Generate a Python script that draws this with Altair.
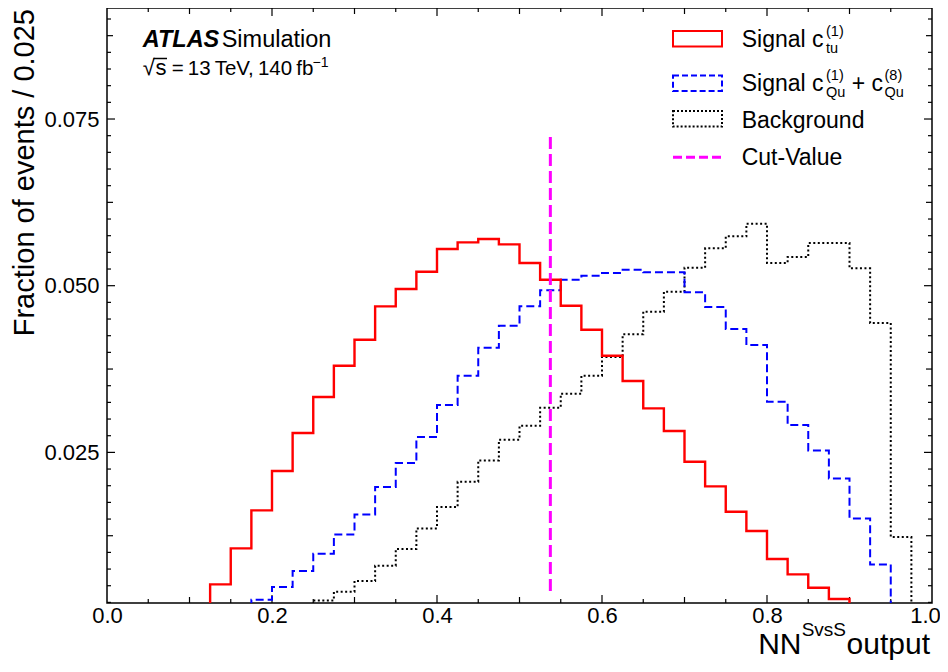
import altair as alt
import numpy as np
import pandas as pd

# ---------------- data ----------------
BIN_WIDTH = 0.025
N_BINS = 40

signal_ctu = [0, 0, 0, 0, 0, 0.0052, 0.0106, 0.0163, 0.0222, 0.0279,
              0.0333, 0.0380, 0.0419, 0.0469, 0.0495, 0.0521, 0.0555, 0.0565, 0.0570, 0.0562,
              0.0534, 0.0509, 0.0470, 0.0434, 0.0395, 0.0357, 0.0316, 0.0282, 0.0236, 0.0199,
              0.0161, 0.0132, 0.0090, 0.0067, 0.0047, 0.0030, 0, 0, 0, 0]
signal_cqu = [0, 0, 0, 0, 0, 0, 0, 0.0029, 0.0048, 0.0072,
              0.0098, 0.0127, 0.0157, 0.0198, 0.0234, 0.0273, 0.0321, 0.0365, 0.0407, 0.0440,
              0.0469, 0.0493, 0.0509, 0.0515, 0.0519, 0.0524, 0.0520, 0.0520, 0.0490, 0.0468,
              0.0435, 0.0411, 0.0326, 0.0291, 0.0253, 0.0211, 0.0151, 0.0082, 0, 0]
background = [0, 0, 0, 0, 0, 0, 0, 0, 0, 0,
              0.0028, 0.0041, 0.0057, 0.0080, 0.0105, 0.0136, 0.0168, 0.0206, 0.0238, 0.0269,
              0.0290, 0.0317, 0.0338, 0.0365, 0.0393, 0.0427, 0.0461, 0.0491, 0.0527, 0.0556,
              0.0574, 0.0593, 0.0534, 0.0543, 0.0564, 0.0564, 0.0526, 0.0444, 0.0123, 0]

cut_value = 0.5374
cut_y_range = [0.0042, 0.0723]

x_tick_labels = [0.0, 0.2, 0.4, 0.6, 0.8, 1.0]
y_tick_labels = [0.025, 0.050, 0.075]

legend_labels = ["Signal c", "Signal c", "Background", "Cut-Value"]
y_title = "Fraction of events / 0.025"

# ---------------- layout ----------------
FONT = "Liberation Sans"
W, H = 825, 595
Y_MIN, Y_MAX = 0.00241, 0.09165
PPU_Y = H / (Y_MAX - Y_MIN)
PPU_X = W / 1.0

xs = alt.Scale(domain=[0, 1], nice=False, zero=False)
ys = alt.Scale(domain=[Y_MIN, Y_MAX], nice=False, zero=False)

x_axis = alt.Axis(values=x_tick_labels, format=".1f", labelFont=FONT, labelFontSize=22,
                  labelColor="black", labelPadding=2, ticks=False, tickSize=0, domain=False,
                  grid=False, title=None, labelFlush=False, labelOverlap=False,
                  labelOffset={"condition": {"test": "datum.value > 0.99", "value": -7},
                               "value": 0})
y_axis = alt.Axis(values=y_tick_labels, format=".3f", labelFont=FONT, labelFontSize=22,
                  labelColor="black", labelPadding=8, ticks=False, tickSize=0, domain=False,
                  grid=False, title=y_title, titleFont=FONT, titleFontSize=29,
                  titleFontWeight="normal", titleColor="black", titleAngle=270,
                  titleAlign="right", titleBaseline="alphabetic", titleX=-74, titleY=0.5,
                  labelFlush=False, labelOverlap=False)

X = alt.X("x:Q", scale=xs, axis=x_axis)
Y = alt.Y("y:Q", scale=ys, axis=y_axis)


def step_df(vals):
    edges = np.arange(N_BINS + 1) * BIN_WIDTH
    return pd.DataFrame({"x": edges, "y": list(vals) + [vals[-1]]})


def hist(vals, color, width, dash=None):
    kw = dict(interpolate="step-after", clip=True, color=color, strokeWidth=width)
    if dash:
        kw["strokeDash"] = dash
    return alt.Chart(step_df(vals)).mark_line(**kw).encode(x=X, y=Y)


# tick marks (inward, on all four sides)
rows = []
for k in range(1, 20):
    v = k * 0.05
    L = 8 if k % 4 == 0 else (6 if k % 2 == 0 else 4)
    rows.append(dict(x=v, x2=v, y=Y_MIN, y2=Y_MIN + L / PPU_Y))
    rows.append(dict(x=v, x2=v, y=Y_MAX, y2=Y_MAX - L / PPU_Y))
for j in range(1, 37):
    v = j * 0.0025
    if v <= Y_MIN or v >= Y_MAX:
        continue
    L = 8 if j % 10 == 0 else (6 if j % 5 == 0 else 4)
    rows.append(dict(x=0.0, x2=L / PPU_X, y=v, y2=v))
    rows.append(dict(x=1.0, x2=1.0 - L / PPU_X, y=v, y2=v))
ticks_df = pd.DataFrame(rows)
ticks = alt.Chart(ticks_df).mark_rule(color="black", strokeWidth=1.2).encode(
    x=X, x2="x2:Q", y=Y, y2="y2:Q")

cut_df = pd.DataFrame({"x": [cut_value], "y": [cut_y_range[0]], "y2": [cut_y_range[1]]})
cut = alt.Chart(cut_df).mark_rule(color="#ff00ff", strokeWidth=3, strokeDash=[12, 5]).encode(
    x=X, y=Y, y2="y2:Q")

one = pd.DataFrame({"d": [0]})


def txt(s, x, y, size, weight="normal", style="normal", align="left"):
    return alt.Chart(one).mark_text(text=s, font=FONT, fontSize=size, fontWeight=weight,
                                    fontStyle=style, align=align, baseline="alphabetic",
                                    color="black").encode(x=alt.value(x), y=alt.value(y))


def box(y0, y1, color, dash=None):
    kw = dict(fillOpacity=0, stroke=color, strokeWidth=2)
    if dash:
        kw["strokeDash"] = dash
    return alt.Chart(one).mark_rect(**kw).encode(
        x=alt.value(566), x2=alt.value(615), y=alt.value(y0), y2=alt.value(y1))


def hline(x0, x1, y, color, width, dash=None):
    kw = dict(color=color, strokeWidth=width)
    if dash:
        kw["strokeDash"] = dash
    return alt.Chart(one).mark_rule(**kw).encode(
        x=alt.value(x0), x2=alt.value(x1), y=alt.value(y))


LX = 634.7
legend = [
    box(23, 38.6, "#ff0000"),
    box(67.5, 83.1, "#0000ff", [6, 3]),
    box(103, 118.6, "black", [2, 2]),
    hline(566, 615, 149.3, "#ff00ff", 3, [9, 4]),
    txt(legend_labels[0], LX, 39.3, 23),
    txt("(1)", 719.0, 27.5, 14.5),
    txt("tu", 719.0, 45, 14.5),
    txt(legend_labels[1], LX, 83, 23),
    txt("(1)", 719.0, 72, 14.5),
    txt("Qu", 719.0, 89, 14.5),
    txt("+ c", 744.7, 83, 23),
    txt("(8)", 777.5, 72, 14.5),
    txt("Qu", 777.5, 89, 14.5),
    txt(legend_labels[2], LX, 119.5, 23),
    txt(legend_labels[3], LX, 157, 23),
]

T = "\u2009"
atlas = [
    txt("ATLAS", 35.7, 38.7, 23.5, weight="bold", style="italic"),
    txt("Simulation", 114.7, 38.7, 23.5),
    txt("\u221a", 35.7, 67, 22),
    txt("s", 48.5, 67, 22),
    hline(46.5, 60, 50.5, "black", 1.5),
    txt("=" + T + "13" + T + "TeV," + T + "140" + T + "fb", 64.7, 67, 20.5),
    txt("\u22121", 205.5, 58.5, 14),
]

TB = 646  # x-title baseline (relative to plot top)
xtitle = [
    txt("output", 823, TB, 30, align="right"),
    txt("SvsS", 739, TB - 18, 19, align="right"),
    txt("NN", 694.5, TB, 30, align="right"),
]

chart = alt.layer(
    ticks,
    hist(background, "black", 2, [2, 2.5]),
    hist(signal_cqu, "#0000ff", 2, [8, 4]),
    hist(signal_ctu, "#ff0000", 2.4),
    cut,
    *legend,
    *atlas,
    *xtitle,
).properties(
    width=W, height=H,
    autosize=alt.AutoSizeParams(type="none"),
    padding={"left": 99, "top": 0, "right": 8, "bottom": 57},
).configure_view(stroke="black", strokeWidth=1.5)

chart.save("out.html", embed_options={"renderer": "svg", "actions": False})
